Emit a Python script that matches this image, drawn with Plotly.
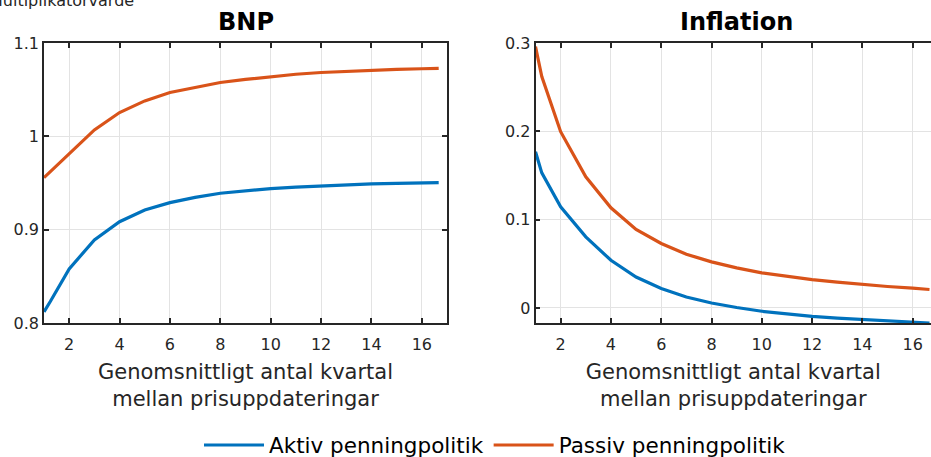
import plotly.graph_objects as go
from plotly.subplots import make_subplots

# Data
x_vals = [1, 1.25, 2, 3, 4, 5, 6, 7, 8, 9, 10, 11, 12, 13, 14, 15, 16, 16.67]
bnp_aktiv = [0.812, 0.823, 0.858, 0.889, 0.9085, 0.921, 0.929, 0.9346, 0.939, 0.9418,
             0.944, 0.9456, 0.947, 0.948, 0.949, 0.9495, 0.950, 0.9503]
bnp_passiv = [0.9557, 0.962, 0.982, 1.0069, 1.0255, 1.038, 1.047, 1.0527, 1.0577, 1.061,
              1.064, 1.0665, 1.0684, 1.0698, 1.071, 1.0718, 1.0724, 1.0728]
infl_aktiv = [0.1769, 0.153, 0.1145, 0.0805, 0.054, 0.0351, 0.022, 0.0125, 0.0057, 0.0005,
              -0.0037, -0.0068, -0.0094, -0.0115, -0.0132, -0.0148, -0.0162, -0.017]
infl_passiv = [0.296, 0.262, 0.1996, 0.1485, 0.1134, 0.0889, 0.073, 0.0609, 0.0522, 0.0454,
               0.0397, 0.0357, 0.0322, 0.0292, 0.0265, 0.0243, 0.0224, 0.0209]
x_ticks = [2, 4, 6, 8, 10, 12, 14, 16]
bnp_ticks = [0.8, 0.9, 1.0, 1.1]
bnp_ticklabels = ["0.8", "0.9", "1", "1.1"]
infl_ticks = [0, 0.1, 0.2, 0.3]
infl_ticklabels = ["0", "0.1", "0.2", "0.3"]
series_names = ["Aktiv penningpolitik", "Passiv penningpolitik"]
colors = ["#0072BD", "#D95319"]

FONT = "DejaVu Sans"
W, H = 931, 457
ml, mr, mt, mb = 44, 0, 43, 134
pw = W - ml - mr
ph = H - mt - mb
dom1 = [0, (447 - ml) / pw]
dom2 = [(535.5 - ml) / pw, 1]

fig = make_subplots(rows=1, cols=2)
fig.add_trace(go.Scatter(x=x_vals, y=bnp_aktiv, mode="lines", name=series_names[0],
                         line=dict(color=colors[0], width=3.2), legendgroup="a"), 1, 1)
fig.add_trace(go.Scatter(x=x_vals, y=bnp_passiv, mode="lines", name=series_names[1],
                         line=dict(color=colors[1], width=3.2), legendgroup="p"), 1, 1)
fig.add_trace(go.Scatter(x=x_vals, y=infl_aktiv, mode="lines", name=series_names[0],
                         line=dict(color=colors[0], width=3.2), legendgroup="a",
                         showlegend=False), 1, 2)
fig.add_trace(go.Scatter(x=x_vals, y=infl_passiv, mode="lines", name=series_names[1],
                         line=dict(color=colors[1], width=3.2), legendgroup="p",
                         showlegend=False), 1, 2)

axis_common = dict(showgrid=True, gridcolor="#e3e3e3", gridwidth=1, showline=True,
                   linecolor="#262626", linewidth=1.5, ticks="inside", ticklen=5,
                   tickwidth=1.5, tickcolor="#262626", zeroline=False,
                   tickfont=dict(family=FONT, size=16, color="#262626"))
xtitle = dict(text="Genomsnittligt antal kvartal<br>mellan prisuppdateringar",
              font=dict(family=FONT, size=21, color="#262626"), standoff=11)

fig.update_xaxes(axis_common, row=1, col=1, domain=dom1, range=[1, 17],
                 tickvals=x_ticks, mirror="ticks", title=xtitle, ticklabelstandoff=6)
fig.update_xaxes(axis_common, row=1, col=2, domain=dom2, range=[1, 16.73],
                 tickvals=x_ticks, mirror="ticks", title=xtitle, ticklabelstandoff=6)
fig.update_yaxes(axis_common, row=1, col=1, range=[0.8, 1.1], tickvals=bnp_ticks,
                 ticktext=bnp_ticklabels, mirror="ticks")
fig.update_yaxes(axis_common, row=1, col=2, range=[-0.017, 0.3], tickvals=infl_ticks,
                 ticktext=infl_ticklabels, mirror=False)

annotations = [
    dict(text="<b>BNP</b>", x=(245.5 - ml) / pw, y=1 + (mt - 22) / ph, xref="paper", yref="paper",
         xanchor="center", yanchor="middle", showarrow=False,
         font=dict(family=FONT, size=24, color="black")),
    dict(text="<b>Inflation</b>", x=(736 - ml) / pw, y=1 + (mt - 22) / ph, xref="paper", yref="paper",
         xanchor="center", yanchor="middle", showarrow=False,
         font=dict(family=FONT, size=24, color="black")),
    dict(text="Multiplikatorvärde", x=-(ml + 13) / pw, y=1 + (mt + 0) / ph, xref="paper", yref="paper",
         xanchor="left", yanchor="middle", showarrow=False,
         font=dict(family=FONT, size=16, color="#262626")),
]

fig.update_layout(
    width=W, height=H,
    margin=dict(l=ml, r=mr, t=mt, b=mb, autoexpand=False),
    plot_bgcolor="white", paper_bgcolor="white",
    annotations=annotations,
    legend=dict(orientation="h", x=(495 - ml) / pw, xanchor="center", y=-(445 - mt - ph) / ph,
                yanchor="middle", font=dict(family=FONT, size=21.5, color="black"),
                itemwidth=60, tracegroupgap=0, bgcolor="rgba(0,0,0,0)"),
)

fig.write_html("out.html", config={"displayModeBar": False},
               post_script="document.body.style.margin='0';document.body.style.overflow='hidden';")
